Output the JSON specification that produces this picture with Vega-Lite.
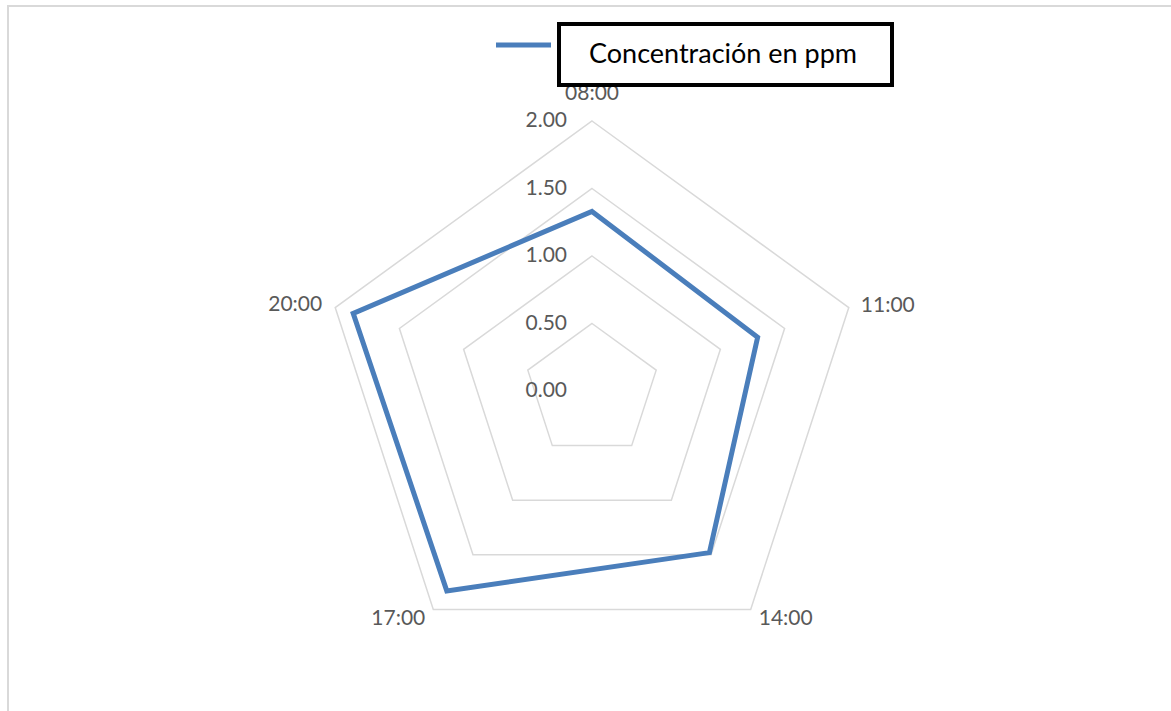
{
  "$schema": "https://vega.github.io/schema/vega-lite/v6.json",
  "width": 1171,
  "height": 711,
  "autosize": "none",
  "padding": {"left": 8, "top": 6, "right": 0, "bottom": 0},
  "background": "white",
  "config": {
    "view": {"stroke": "#D9D9D9", "strokeWidth": 2},
    "font": "Lato",
    "text": {"font": "Lato", "fontSize": 21, "color": "#595959"}
  },
  "datasets": {
    "horas": [
      {"hora": "08:00", "i": 0, "valor": 1.33, "serie": "Concentración en ppm"},
      {"hora": "11:00", "i": 1, "valor": 1.29, "serie": "Concentración en ppm"},
      {"hora": "14:00", "i": 2, "valor": 1.48, "serie": "Concentración en ppm"},
      {"hora": "17:00", "i": 3, "valor": 1.83, "serie": "Concentración en ppm"},
      {"hora": "20:00", "i": 4, "valor": 1.86, "serie": "Concentración en ppm"}
    ],
    "anillos": [
      {"nivel": 0.5, "i": [0, 1, 2, 3, 4]},
      {"nivel": 1.0, "i": [0, 1, 2, 3, 4]},
      {"nivel": 1.5, "i": [0, 1, 2, 3, 4]},
      {"nivel": 2.0, "i": [0, 1, 2, 3, 4]}
    ],
    "niveles": [
      {"nivel": 0.0}, {"nivel": 0.5}, {"nivel": 1.0}, {"nivel": 1.5}, {"nivel": 2.0}
    ]
  },
  "encoding": {
    "x": {"field": "x", "type": "quantitative", "axis": null,
          "scale": {"domain": [-4.3259, 4.3481], "nice": false, "zero": false}},
    "y": {"field": "y", "type": "quantitative", "axis": null,
          "scale": {"domain": [-2.4148, 2.8519], "nice": false, "zero": false}}
  },
  "layer": [
    {
      "data": {"name": "anillos"},
      "transform": [
        {"flatten": ["i"]},
        {"calculate": "datum.i * 2 * PI / 5", "as": "ang"},
        {"calculate": "datum.nivel * sin(datum.ang)", "as": "x"},
        {"calculate": "datum.nivel * cos(datum.ang)", "as": "y"}
      ],
      "mark": {"type": "line", "interpolate": "linear-closed", "stroke": "#D9D9D9", "strokeWidth": 1.5, "strokeJoin": "miter"},
      "encoding": {
        "detail": {"field": "nivel"},
        "order": {"field": "i", "type": "quantitative"}
      }
    },
    {
      "data": {"name": "niveles"},
      "transform": [
        {"calculate": "0", "as": "x"},
        {"calculate": "datum.nivel", "as": "y"}
      ],
      "mark": {"type": "text", "align": "right", "baseline": "middle", "dx": -25},
      "encoding": {
        "text": {"field": "nivel", "type": "quantitative", "format": ".2f"}
      }
    },
    {
      "data": {"name": "horas"},
      "transform": [
        {"calculate": "datum.i * 2 * PI / 5", "as": "ang"},
        {"calculate": "datum.valor * sin(datum.ang)", "as": "x"},
        {"calculate": "datum.valor * cos(datum.ang)", "as": "y"}
      ],
      "mark": {"type": "line", "interpolate": "linear-closed", "strokeWidth": 5, "strokeJoin": "miter"},
      "encoding": {
        "order": {"field": "i", "type": "quantitative"},
        "color": {
          "field": "serie", "type": "nominal",
          "scale": {"range": ["#4A7EBB"]},
          "legend": {
            "title": null,
            "orient": "none",
            "legendX": 551,
            "legendY": 18,
            "symbolType": "M-2.5,-0.86H2.5M31,0",
            "symbolSize": 484,
            "symbolStrokeWidth": 5,
            "symbolOffset": -66,
            "labelFont": "Lato",
            "labelFontSize": 27,
            "labelColor": "black",
            "labelOffset": 52,
            "labelLimit": 0,
            "padding": 17,
            "strokeColor": "black",
            "fillColor": "white",
            "encode": {"legend": {"update": {"strokeWidth": {"value": 4}}}}
          }
        }
      }
    },
    {
      "data": {"name": "horas"},
      "transform": [
        {"calculate": "datum.i * 2 * PI / 5", "as": "ang"},
        {"calculate": "2 * sin(datum.ang)", "as": "x"},
        {"calculate": "2 * cos(datum.ang)", "as": "y"}
      ],
      "layer": [
        {"transform": [{"filter": "datum.i == 0"}],
         "mark": {"type": "text", "align": "center", "baseline": "middle", "dy": -27},
         "encoding": {"text": {"field": "hora"}}},
        {"transform": [{"filter": "datum.i == 1"}],
         "mark": {"type": "text", "align": "left", "baseline": "middle", "dx": 12, "dy": -2},
         "encoding": {"text": {"field": "hora"}}},
        {"transform": [{"filter": "datum.i == 2"}],
         "mark": {"type": "text", "align": "left", "baseline": "middle", "dx": 8, "dy": 10},
         "encoding": {"text": {"field": "hora"}}},
        {"transform": [{"filter": "datum.i == 3"}],
         "mark": {"type": "text", "align": "right", "baseline": "middle", "dx": -8, "dy": 10},
         "encoding": {"text": {"field": "hora"}}},
        {"transform": [{"filter": "datum.i == 4"}],
         "mark": {"type": "text", "align": "right", "baseline": "middle", "dx": -13, "dy": -3},
         "encoding": {"text": {"field": "hora"}}}
      ]
    }
  ]
}
